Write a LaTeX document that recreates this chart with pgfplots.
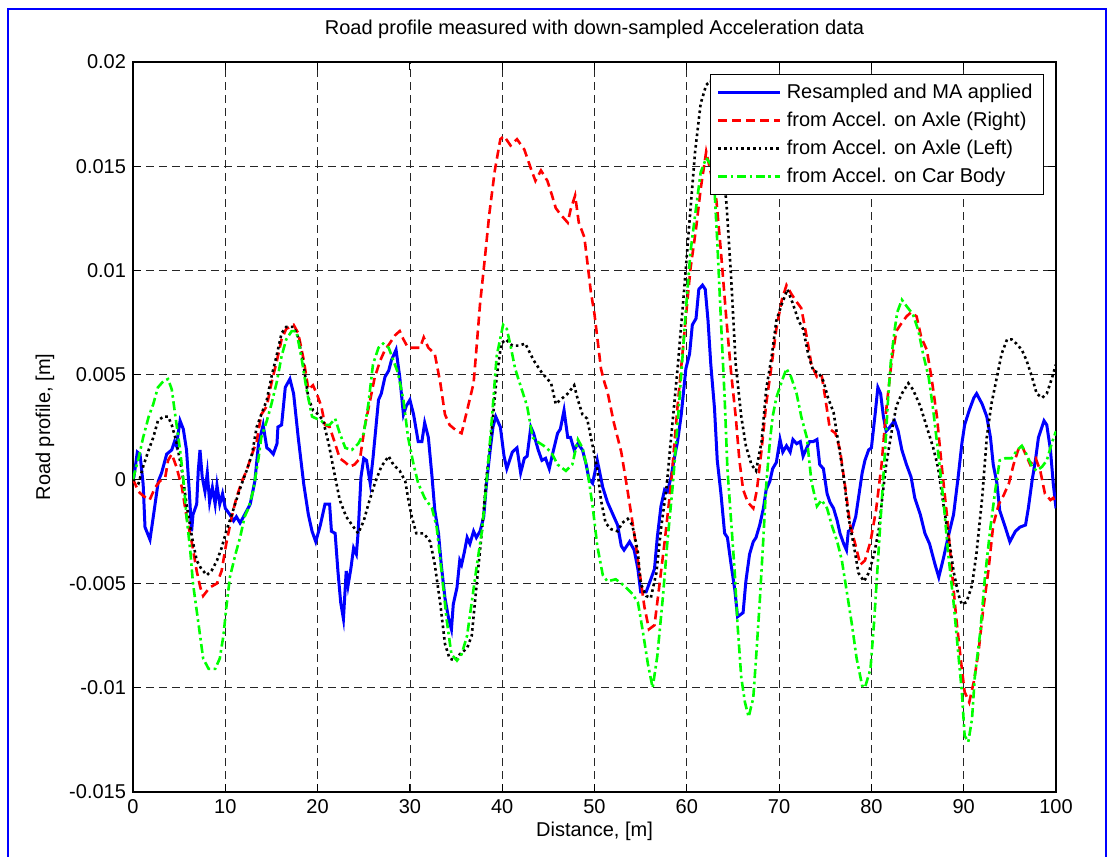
\documentclass[border=0pt]{standalone}
\usepackage{fontspec}
\setmainfont{Liberation Sans}
\usepackage{pgfplots}
\pgfplotsset{compat=1.18}
\definecolor{mblue}{RGB}{0,0,255}
\definecolor{mred}{RGB}{255,0,0}
\definecolor{mgreen}{RGB}{0,255,0}
\begin{document}
\begin{tikzpicture}
\useasboundingbox (-66.5pt,-32.5pt) rectangle (488pt,396pt);
% blue figure frame
\draw[mblue,line width=1pt] (-62.5pt,-40pt) -- (-62.5pt,391.5pt) -- (486.5pt,391.5pt) -- (486.5pt,-40pt);
\begin{axis}[
    scale only axis,
    width=461.5pt, height=365pt,
    xmin=0, xmax=100, ymin=-0.015, ymax=0.02,
    xtick={0,10,20,30,40,50,60,70,80,90,100},
    xticklabels={0,10,20,30,40,50,60,70,80,90,100},
    ytick={-0.015,-0.01,-0.005,0,0.005,0.01,0.015,0.02},
    yticklabels={-0.015,-0.01,-0.005,0,0.005,0.01,0.015,0.02},
    scaled y ticks=false, scaled x ticks=false,
    tick align=inside, xtick pos=both, ytick pos=both,
    major tick length=4pt,
    axis line style={line width=0.8pt},
    every tick/.style={black,line width=0.5pt},
    grid=major,
    grid style={black!85,line width=0.4pt,dash pattern=on 4pt off 2.5pt},
    font=\fontsize{10}{12}\selectfont,
    tick label style={font=\fontsize{10}{12}\selectfont},
    title={Road profile measured with down-sampled Acceleration data},
    title style={at={(0.5,1.0219)},anchor=base,font=\fontsize{10}{12}\selectfont},
    xlabel={Distance, [m]},
    xlabel style={at={(0.5,-0.0603)},anchor=base},
    ylabel={Road profile, [m]},
    ylabel style={at={(-0.0953,0.5)},anchor=center},
    legend cell align=left,
    legend image code/.code={\draw[#1] (0pt,0pt) -- (31pt,0pt);},
    legend style={at={(0.987,0.9836)},anchor=north east,draw=black,line width=0.5pt,
        fill=white,inner xsep=3pt,inner ysep=2pt,row sep=0pt,
        font=\fontsize{10}{12}\selectfont,
        nodes={inner xsep=2.5pt,inner ysep=0pt,minimum height=14pt}},
  ]
\addplot[mblue,line width=1.5pt] table {
0 0
0.1 0.0001
0.47 0.0013
0.76 0.0012
1.1 -0.00024
1.3 -0.0023
1.84 -0.0029
2.2 -0.0018
2.74 -0.0001
3.1 0.0003
3.65 0.0012
4.2 0.0014
4.5 0.0018
4.7 0.0016
5.1 0.0028
5.45 0.0024
5.8 0.0014
6.1 -0.0006
6.35 -0.0025
6.5 -0.0017
6.9 -0.0012
7.07 0.0004
7.26 0.0014
7.5 0.0001
7.8 -0.0006
8.05 0.0003
8.3 -0.0011
8.6 -0.0004
8.9 -0.0012
9.1 -0.0003
9.4 -0.0012
9.7 -0.0007
10.0 -0.0014
10.5 -0.0017
10.9 -0.002
11.2 -0.0018
11.6 -0.0021
12.1 -0.0017
12.7 -0.0012
13.2 -0.0001
13.6 0.0017
14.1 0.0026
14.5 0.0015
14.8 0.0014
15.2 0.0012
15.6 0.0017
15.7 0.0025
16.1 0.0026
16.5 0.0044
17.0 0.0048
17.4 0.0041
17.9 0.002
18.5 -0.00024
19.0 -0.0017
19.4 -0.0025
19.8 -0.003
20.3 -0.0022
20.8 -0.0012
21.3 -0.0012
21.5 -0.0025
21.9 -0.0026
22.2 -0.0044
22.5 -0.0059
22.8 -0.0067
23.1 -0.0044
23.3 -0.0051
23.6 -0.0043
23.9 -0.0033
24.2 -0.0036
24.4 -0.0025
24.7 0.0001
25.0 0.001
25.3 0.0009
25.7 -0.0002
26.0 0.001
26.6 0.0038
26.9 0.0041
27.3 0.0049
27.7 0.0052
28.0 0.0057
28.5 0.0062
28.9 0.0049
29.3 0.0031
29.6 0.0035
30.0 0.0038
30.4 0.0031
30.9 0.0018
31.3 0.0018
31.6 0.0027
32.0 0.002
32.4 0.0001
32.7 -0.0015
33.1 -0.0026
33.4 -0.0041
33.8 -0.0057
34.2 -0.0067
34.5 -0.0072
34.7 -0.006
35.1 -0.0052
35.4 -0.0039
35.6 -0.0041
35.9 -0.0035
36.2 -0.0028
36.5 -0.0031
36.9 -0.0025
37.2 -0.0028
37.6 -0.0025
38.0 -0.0018
38.3 -0.0002
38.7 0.0014
39.0 0.0025
39.3 0.003
39.8 0.0025
40.2 0.0011
40.5 0.0005
41.1 0.0013
41.6 0.0015
42.0 0.0003
42.4 0.001
42.7 0.0011
43.1 0.0025
43.4 0.0022
43.9 0.0014
44.3 0.0009
44.7 0.001
45.1 0.0005
45.4 0.0011
46.0 0.0022
46.3 0.0024
46.7 0.0033
47.1 0.002
47.4 0.002
47.8 0.0014
48.2 0.0017
48.7 0.0014
49.1 0.0007
49.4 0
49.8 -0.0002
50.3 0.0009
50.9 -0.0004
51.4 -0.0011
52.0 -0.0017
52.5 -0.0022
52.9 -0.0032
53.2 -0.0034
53.8 -0.003
54.3 -0.0034
54.7 -0.0043
55.0 -0.0054
55.6 -0.0054
56.1 -0.0048
56.5 -0.0043
56.8 -0.0028
57.2 -0.0013
57.6 -0.0005
57.9 -0.0006
58.3 0.0001
58.6 0.0009
59.0 0.0018
59.4 0.0031
59.9 0.0053
60.3 0.006
60.6 0.0074
61.0 0.0077
61.3 0.0091
61.7 0.0093
62.0 0.0091
62.3 0.0076
62.6 0.0055
63.0 0.0034
63.3 0.0009
63.7 -0.0007
64.1 -0.0026
64.4 -0.0028
64.8 -0.0041
65.2 -0.0053
65.5 -0.0066
66.1 -0.0064
66.4 -0.0049
66.8 -0.0036
67.2 -0.003
67.5 -0.0028
67.9 -0.0022
68.3 -0.0014
68.6 -0.0005
69.0 -0.0001
69.3 0.0005
69.7 0.0008
70.1 0.0019
70.4 0.0013
70.8 0.0016
71.2 0.0013
71.5 0.0019
71.9 0.0017
72.3 0.0018
72.6 0.0011
73.0 0.0015
73.3 0.0018
73.7 0.0018
74.1 0.0019
74.4 0.0007
74.8 0.0005
75.2 -0.0007
75.5 -0.0011
75.9 -0.0014
76.3 -0.002
76.6 -0.0026
77.0 -0.0031
77.3 -0.0034
77.5 -0.0025
77.9 -0.0024
78.3 -0.0018
78.6 -0.0009
79.0 0.0003
79.3 0.0009
79.7 0.0014
80.0 0.0015
80.4 0.0031
80.7 0.0044
81.0 0.0041
81.3 0.003
81.6 0.0023
82.0 0.0025
82.5 0.0028
82.9 0.0023
83.3 0.0014
83.8 0.0007
84.3 0.0001
84.7 -0.0009
85.3 -0.0017
85.8 -0.0026
86.3 -0.0031
86.9 -0.0041
87.3 -0.0047
87.8 -0.0038
88.3 -0.0028
88.9 -0.0017
89.4 0.0001
89.8 0.0017
90.1 0.0026
90.6 0.0033
91.1 0.0039
91.4 0.0041
92.0 0.0036
92.5 0.003
92.9 0.002
93.2 0.0007
93.6 -0.0002
93.9 -0.0015
94.5 -0.0023
95.0 -0.003
95.6 -0.0025
96.1 -0.0023
96.7 -0.0022
97.0 -0.0014
97.4 -0.0001
97.8 0.001
98.1 0.002
98.7 0.0028
99.0 0.0026
99.4 0.0014
99.7 -0.0002
100 -0.0014
};
\addlegendentry{Resampled and MA applied}
\addplot[mred,line width=1.3pt,dash pattern=on 4.5pt off 2.5pt] table {
0 0
0.6 -0.0006
1.1 -0.0008
1.8 -0.001
2.4 -0.0004
2.9 -0.0001
3.5 0.0001
3.8 0.0009
4.2 0.0012
4.7 0.0006
5.3 -0.0004
5.8 -0.0018
6.4 -0.0031
6.9 -0.0044
7.3 -0.0052
7.6 -0.0056
8.3 -0.0052
9.1 -0.005
9.6 -0.0044
10.1 -0.0031
10.7 -0.0018
11.2 -0.0009
11.8 -0.0001
12.3 0.0004
12.9 0.0012
13.4 0.0018
13.9 0.0031
14.5 0.0035
15.0 0.0046
15.6 0.0057
16.1 0.0067
16.6 0.0072
17.4 0.0074
17.9 0.007
18.5 0.0057
19.0 0.0043
19.5 0.0045
19.9 0.0041
20.4 0.0035
20.8 0.0026
21.3 0.0025
21.9 0.0017
22.4 0.001
23.0 0.0008
23.5 0.0006
24.0 0.0007
24.6 0.001
25.1 0.0025
25.7 0.0038
26.2 0.0049
26.8 0.0057
27.3 0.0062
27.8 0.0065
28.4 0.0069
28.9 0.0071
29.3 0.0067
29.8 0.0063
30.4 0.0063
31.1 0.0063
31.5 0.0068
32.0 0.0063
32.7 0.006
33.3 0.0046
33.8 0.0031
34.3 0.0026
35.1 0.0023
35.6 0.0022
36.2 0.0033
36.9 0.0046
37.2 0.0062
37.6 0.0084
38.1 0.0105
38.6 0.0127
39.2 0.0148
39.8 0.0163
40.2 0.01645
40.9 0.016
41.6 0.0163
42.4 0.0158
43.1 0.0149
43.6 0.0143
44.2 0.0148
44.9 0.0143
45.4 0.0136
45.8 0.013
46.3 0.0127
47.1 0.0123
47.4 0.0129
47.9 0.0136
48.3 0.0123
48.9 0.0116
49.2 0.0105
49.6 0.009
50.0 0.0079
50.3 0.0068
50.7 0.0053
51.1 0.0046
51.4 0.0042
52.1 0.0027
52.9 0.0013
53.6 -0.0006
54.3 -0.0026
54.9 -0.0045
55.4 -0.0061
55.9 -0.0072
56.5 -0.007
57.0 -0.0052
57.6 -0.003
58.3 -0.0002
59.0 0.0035
59.8 0.0073
60.4 0.0101
61.0 0.012
61.5 0.0139
62.1 0.0157
62.6 0.0147
63.2 0.0134
63.7 0.0109
64.3 0.0076
64.8 0.0051
65.3 0.003
65.7 0.0009
66.1 -0.0005
66.6 -0.0011
67.2 -0.0014
67.6 -0.0005
68.1 0.0014
68.6 0.0036
69.2 0.0055
69.7 0.0072
70.3 0.0086
70.8 0.0093
71.3 0.0089
71.9 0.0085
72.4 0.0082
73.0 0.0068
73.5 0.0055
74.1 0.0049
74.6 0.005
75.0 0.0039
75.5 0.0024
76.1 0.0022
76.6 0.0014
77.2 -0.0005
77.7 -0.0022
78.3 -0.0032
78.8 -0.0041
79.3 -0.0039
79.9 -0.003
80.5 -0.0015
81.1 0.0007
81.6 0.0033
82.2 0.0057
82.7 0.0071
83.3 0.0075
83.8 0.0078
84.3 0.008
84.9 0.0078
85.4 0.0068
86.0 0.0062
86.5 0.0049
87.1 0.003
87.6 0.0007
88.2 -0.0018
88.7 -0.0043
89.2 -0.0067
89.8 -0.0091
90.1 -0.0102
90.6 -0.0107
91.1 -0.0097
91.6 -0.0083
92.1 -0.0063
92.7 -0.0043
93.2 -0.0022
93.8 -0.0012
94.3 -0.0008
94.9 -0.0002
95.4 0.0007
95.9 0.0014
96.3 0.0016
96.7 0.0012
97.2 0.0007
97.8 0.001
98.3 0.0004
98.8 -0.0007
99.4 -0.001
99.7 -0.0009
100 -0.0012
};
\addlegendentry{from Accel. on Axle (Right)}
\addplot[black,line width=1.3pt,dash pattern=on 1.3pt off 1.6pt] table {
0 0
0.6 -0.0002
1.1 0.0006
1.7 0.0014
2.2 0.002
2.7 0.0028
3.3 0.003
3.8 0.003
4.2 0.0026
4.7 0.0018
5.3 0.0004
5.8 -0.0012
6.4 -0.0028
6.9 -0.0039
7.4 -0.0043
8.0 -0.0046
8.5 -0.0044
9.1 -0.0039
9.6 -0.0033
10.1 -0.0025
10.7 -0.0017
11.2 -0.001
11.8 -0.0002
12.3 0.0004
12.9 0.0012
13.4 0.0025
13.9 0.0031
14.5 0.0038
15.0 0.0049
15.6 0.006
16.1 0.007
16.6 0.0073
17.4 0.0073
17.9 0.0068
18.5 0.0054
19.0 0.0039
19.5 0.0033
20.1 0.0031
20.6 0.0028
21.2 0.0017
21.9 0.0001
22.4 -0.001
23.1 -0.0018
23.9 -0.0023
24.4 -0.0026
25.0 -0.002
25.5 -0.0012
26.2 -0.0002
26.9 0.0006
27.7 0.0011
28.2 0.0007
28.9 0.0004
29.5 -0.0001
29.8 -0.0009
30.2 -0.0018
30.7 -0.0026
31.5 -0.0026
32.2 -0.003
32.7 -0.0041
33.3 -0.006
33.8 -0.0079
34.3 -0.0086
34.9 -0.0087
35.4 -0.0084
36.2 -0.0081
36.7 -0.0075
37.2 -0.0052
37.8 -0.0025
38.3 0.0001
38.9 0.0025
39.4 0.0049
39.9 0.0065
40.4 0.0067
41.1 0.0064
41.8 0.0064
42.5 0.0065
43.4 0.0057
44.3 0.0051
45.3 0.0046
45.8 0.0036
46.3 0.0038
47.1 0.0041
47.8 0.0045
48.2 0.0038
48.7 0.0031
49.2 0.0029
49.8 0.0016
50.3 0.0005
50.7 -0.001
51.2 -0.0021
51.8 -0.0024
52.5 -0.0025
53.0 -0.0021
53.6 -0.0019
54.1 -0.0022
54.7 -0.0035
55.0 -0.005
55.6 -0.0056
56.1 -0.0057
56.7 -0.0045
57.2 -0.0024
57.8 -0.0004
58.3 0.002
59.0 0.0053
59.7 0.009
60.3 0.0124
60.9 0.0157
61.5 0.018
62.1 0.0189
62.6 0.0191
63.2 0.0178
63.7 0.0159
64.3 0.0132
64.8 0.0097
65.3 0.0055
65.9 0.003
66.4 0.0016
67.0 0.0007
67.5 0.0004
68.1 0.0018
68.6 0.0043
69.2 0.0059
69.7 0.0076
70.3 0.0084
70.9 0.0091
71.5 0.0084
72.1 0.0076
72.6 0.0072
73.2 0.0059
73.7 0.0052
74.3 0.0051
74.8 0.0047
75.3 0.0039
75.9 0.0032
76.4 0.0018
77.0 0.0001
77.5 -0.0018
78.1 -0.0032
78.6 -0.0045
79.2 -0.0049
79.7 -0.0045
80.3 -0.0036
80.8 -0.0024
81.1 -0.0012
81.6 0.0007
82.2 0.0023
82.7 0.0035
83.3 0.0041
84.0 0.0046
84.5 0.0043
85.3 0.0035
86.0 0.0025
86.7 0.0015
87.2 0.0006
87.8 -0.0012
88.3 -0.0026
88.9 -0.0044
89.4 -0.0055
89.8 -0.006
90.3 -0.0059
90.9 -0.0051
91.4 -0.0035
92.0 -0.0009
92.5 0.002
93.0 0.0036
93.6 0.0049
94.1 0.006
94.7 0.0067
95.2 0.0067
95.7 0.0065
96.3 0.0062
96.8 0.0057
97.4 0.0049
97.9 0.0041
98.5 0.0039
99.0 0.0041
99.6 0.0049
100 0.0055
};
\addlegendentry{from Accel. on Axle (Left)}
\addplot[mgreen,line width=1.3pt,dash pattern=on 4.5pt off 1.8pt on 1.3pt off 1.8pt] table {
0 0
0.6 0.001
1.1 0.002
1.7 0.003
2.2 0.0036
2.7 0.0044
3.3 0.0047
3.8 0.0048
4.2 0.0043
4.6 0.003
5.1 0.0014
5.5 -0.0002
5.8 -0.0018
6.2 -0.0034
6.5 -0.005
6.9 -0.0063
7.3 -0.0076
7.6 -0.0086
8.2 -0.0091
8.9 -0.0091
9.4 -0.0086
9.8 -0.0075
10.1 -0.0062
10.5 -0.0047
11.1 -0.0036
11.6 -0.0028
12.1 -0.0018
12.5 -0.0014
13.0 -0.0006
13.6 0.001
13.9 0.002
14.5 0.0028
15.0 0.0036
15.6 0.0047
16.1 0.0059
16.6 0.0067
17.2 0.0071
17.7 0.0071
18.3 0.0057
18.8 0.0043
19.4 0.003
19.9 0.0029
20.4 0.0028
20.8 0.0026
21.3 0.0026
21.9 0.0029
22.4 0.0022
23.0 0.0015
23.7 0.0014
24.4 0.0017
25.0 0.0022
25.5 0.0036
26.0 0.0055
26.6 0.0063
27.1 0.0065
27.7 0.0063
28.2 0.0057
28.7 0.0051
29.3 0.0038
29.8 0.002
30.4 0.0007
30.9 -0.0002
31.6 -0.0009
32.4 -0.0014
32.9 -0.0023
33.4 -0.0043
34.0 -0.0068
34.5 -0.0084
35.1 -0.0087
35.6 -0.0084
36.2 -0.0075
36.7 -0.0059
37.2 -0.0043
37.8 -0.0025
38.3 -0.0002
38.9 0.003
39.4 0.0059
40.1 0.0074
40.5 0.0072
40.9 0.0064
41.4 0.0053
41.9 0.0046
42.7 0.0035
43.3 0.002
43.8 0.0018
44.5 0.0016
45.3 0.0013
46.0 0.0007
46.9 0.0004
47.6 0.0007
48.2 0.0019
48.7 0.0015
49.2 0.0005
49.8 -0.0013
50.3 -0.0032
50.9 -0.0046
51.4 -0.0049
52.3 -0.0048
53.2 -0.0051
54.1 -0.0055
54.7 -0.0059
55.2 -0.0072
55.8 -0.0089
56.3 -0.01
56.8 -0.0085
57.4 -0.0057
57.9 -0.003
58.5 -0.0002
59.2 0.0038
59.9 0.0081
60.4 0.0109
61.0 0.013
61.5 0.0147
62.1 0.0154
62.6 0.0151
63.0 0.0139
63.3 0.0114
63.7 0.0076
64.1 0.0039
64.4 0.0005
64.8 -0.002
65.2 -0.0045
65.5 -0.007
65.9 -0.0095
66.3 -0.0107
66.7 -0.0114
67.2 -0.0105
67.5 -0.0086
67.9 -0.0059
68.3 -0.0028
68.6 -0.0003
69.0 0.0018
69.3 0.003
69.7 0.0039
70.3 0.0047
70.8 0.0053
71.3 0.0049
71.9 0.0041
72.4 0.003
73.0 0.002
73.5 -0.0001
74.1 -0.0013
74.6 -0.001
75.2 -0.0014
75.7 -0.0022
76.3 -0.003
76.8 -0.0039
77.3 -0.0053
77.9 -0.007
78.4 -0.0086
79.0 -0.0099
79.3 -0.01
79.9 -0.0091
80.3 -0.0068
80.7 -0.004
81.1 -0.0012
81.5 0.0015
81.8 0.0038
82.1 0.0056
82.5 0.0071
82.8 0.008
83.3 0.0086
83.8 0.0083
84.5 0.0079
85.1 0.0071
85.6 0.006
86.2 0.0049
86.7 0.0033
87.2 0.0014
87.8 -0.001
88.3 -0.0035
88.9 -0.0059
89.4 -0.0083
89.8 -0.0102
90.1 -0.0123
90.5 -0.0126
90.9 -0.0115
91.2 -0.0095
91.8 -0.0073
92.3 -0.0047
92.9 -0.0023
93.4 -0.0006
93.9 0.0009
94.5 0.001
95.2 0.001
95.8 0.0014
96.3 0.0016
96.8 0.0012
97.4 0.0006
97.9 0.0004
98.5 0.0006
99.0 0.0009
99.6 0.0018
100 0.0023
};
\addlegendentry{from Accel. on Car Body}
\end{axis}
\end{tikzpicture}
\end{document}
